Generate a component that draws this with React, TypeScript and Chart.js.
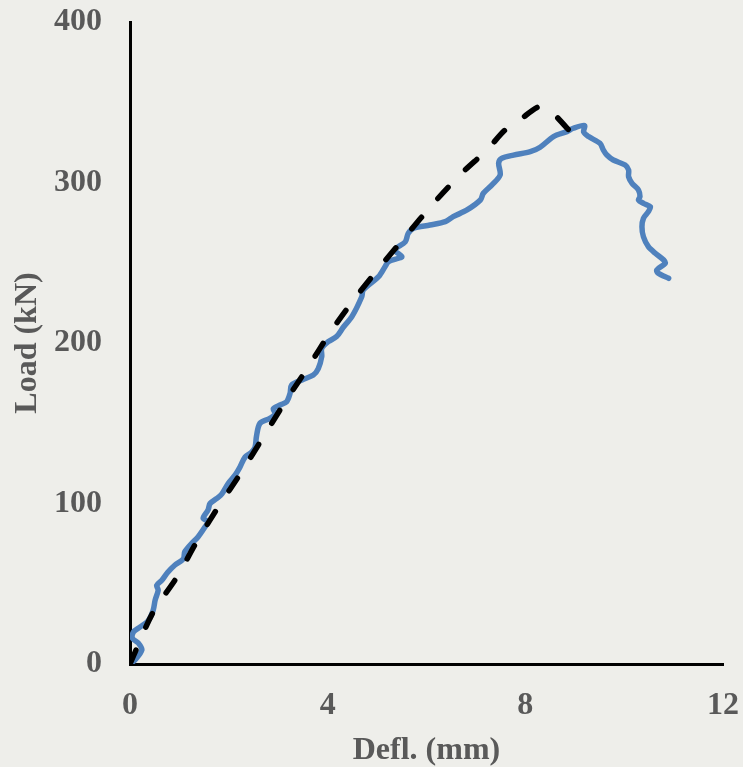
import React, { useEffect, useRef } from "react";
import { Chart, registerables } from "chart.js";

Chart.register(...registerables);

// Measured series: deflection (mm) and load (kN)
const testDefl = [
  0, 0.10, 0.24, 0.17, 0.05, 0.07, 0.20, 0.37, 0.47, 0.51, 0.57, 0.54, 0.64, 0.76, 0.91, 1.08,
  1.11, 1.25, 1.38, 1.52, 1.58, 1.48, 1.58, 1.62, 1.75, 1.86, 1.99, 2.13, 2.23, 2.33, 2.46, 2.53,
  2.56, 2.63, 2.83, 2.94, 2.90, 3.04, 3.17, 3.24, 3.27, 3.48, 3.71, 3.81, 3.88, 3.88, 4.01, 4.18,
  4.32, 4.49, 4.69, 4.72, 5.03, 5.16, 5.23, 5.43, 5.50, 5.36, 5.57, 5.63, 5.74, 6.07, 6.38, 6.54,
  6.82, 7.09, 7.15, 7.32, 7.49, 7.46, 7.52, 7.76, 8.10, 8.30, 8.57, 8.84, 8.97, 9.20, 9.18, 9.28,
  9.51, 9.58, 9.65, 9.78, 10.02, 10.09, 10.09, 10.16, 10.29, 10.32, 10.29, 10.39, 10.53, 10.49,
  10.39, 10.36, 10.39, 10.49, 10.63, 10.80, 10.83, 10.66, 10.69, 10.90,
];
const testLoad = [
  0, 2.5, 8.7, 13, 16, 20, 23, 27, 33.6, 40, 46, 49, 52, 57, 61.7, 65.5,
  70, 75.2, 79.3, 85.5, 88.7, 90.8, 96, 100, 103, 106, 112.6, 117.8, 123, 129, 132, 135,
  142, 150, 153, 156, 159, 161.4, 163.4, 168.7, 173.8, 177, 180, 184, 191.5, 196.7, 200.8, 204,
  210, 216.4, 228.8, 233, 241.3, 247.5, 250.7, 252.8, 253.8, 258, 263, 268.3, 271.5, 273.5, 275.6, 278.7,
  282.9, 289.1, 293.3, 298.4, 304.7, 312, 315, 317.1, 319.2, 322, 328.6, 331.7, 333.8, 335.5, 331.5, 328.6,
  324.4, 320.2, 317.1, 314, 310.9, 307.8, 303.6, 299.5, 295.3, 291.2, 289.1, 287, 284.9, 281.8,
  277.7, 272.5, 266.2, 260, 255.9, 251.7, 249.6, 245.5, 243.4, 240.3,
];

// Predicted series (dashed)
const modelDefl = [
  0, 0.14, 0.47, 0.95, 1.35, 1.79, 2.26, 2.70, 3.14, 3.61, 4.05, 4.55, 5.06, 5.60, 6.14, 6.71,
  7.22, 7.59, 7.89, 8.27, 8.47, 8.60, 8.94,
];
const modelLoad = [
  0, 10, 32.4, 54.2, 76.2, 98, 119.8, 141.6, 163.4, 185.2, 206.5, 227.8, 247.5, 267.3, 287, 305.7,
  320.2, 332.7, 339, 347.2, 345.2, 342, 330.6,
];

const xTicks = [0, 4, 8, 12];
const yTicks = [0, 100, 200, 300, 400];
const xTitle = "Defl. (mm)";
const yTitle = "Load (kN)";

const toPoints = (xs: number[], ys: number[]) => xs.map((x, i) => ({ x, y: ys[i] }));

const zeroPad = (s: any) => {
  s.paddingTop = 0;
  s.paddingBottom = 0;
  s.paddingLeft = 0;
  s.paddingRight = 0;
};

export default function App() {
  const canvasRef = useRef<HTMLCanvasElement | null>(null);

  useEffect(() => {
    const canvas = canvasRef.current;
    if (!canvas) return;
    const textColor = "#595959";
    const tickFont = { family: "'Liberation Serif', 'Times New Roman', serif", size: 32, weight: "bold" as const };
    const chart = new Chart(canvas, {
      type: "scatter",
      data: {
        datasets: [
          {
            label: "Model",
            data: toPoints(modelDefl, modelLoad),
            showLine: true,
            borderColor: "#000000",
            borderWidth: 5.5,
            borderDash: [15, 25],
            borderCapStyle: "round",
            borderJoinStyle: "round",
            pointRadius: 0,
            tension: 0.3,
            fill: false,
          },
          {
            label: "Test",
            data: toPoints(testDefl, testLoad),
            showLine: true,
            borderColor: "#4F81BD",
            borderWidth: 5.5,
            borderCapStyle: "round",
            borderJoinStyle: "round",
            pointRadius: 0,
            tension: 0.3,
            fill: false,
          },
        ],
      },
      options: {
        animation: false,
        responsive: false,
        maintainAspectRatio: false,
        layout: { padding: { top: 22, right: 20, left: 0, bottom: 0 } },
        plugins: { legend: { display: false }, tooltip: { enabled: false } },
        scales: {
          x: {
            type: "linear",
            min: 0,
            max: 12,
            afterFit: (s: any) => { s.height = 103; zeroPad(s); },
            afterBuildTicks: (s: any) => { s.ticks = xTicks.map((v) => ({ value: v })); },
            ticks: { color: textColor, font: tickFont, padding: 23, maxRotation: 0 },
            grid: { drawOnChartArea: false, drawTicks: false, color: "transparent" },
            border: { display: true, color: "#000000", width: 3 },
            title: { display: true, text: xTitle, color: textColor, font: tickFont, padding: { top: 0, bottom: -3 } },
          },
          y: {
            type: "linear",
            min: 0,
            max: 400,
            afterFit: (s: any) => { s.width = 130; zeroPad(s); },
            afterBuildTicks: (s: any) => { s.ticks = yTicks.map((v) => ({ value: v })); },
            ticks: { color: textColor, font: tickFont, padding: 28 },
            grid: { drawOnChartArea: false, drawTicks: false, color: "transparent" },
            border: { display: true, color: "#000000", width: 3 },
            title: { display: true, text: yTitle, color: textColor, font: tickFont, padding: { top: 9, bottom: 0 } },
          },
        },
      },
    });
    return () => chart.destroy();
  }, []);

  return (
    <div style={{ position: "absolute", left: 0, top: 0, width: 743, height: 767, background: "#EEEEEA" }}>
      <canvas ref={canvasRef} width={743} height={767} style={{ display: "block", width: 743, height: 767 }} />
    </div>
  );
}
